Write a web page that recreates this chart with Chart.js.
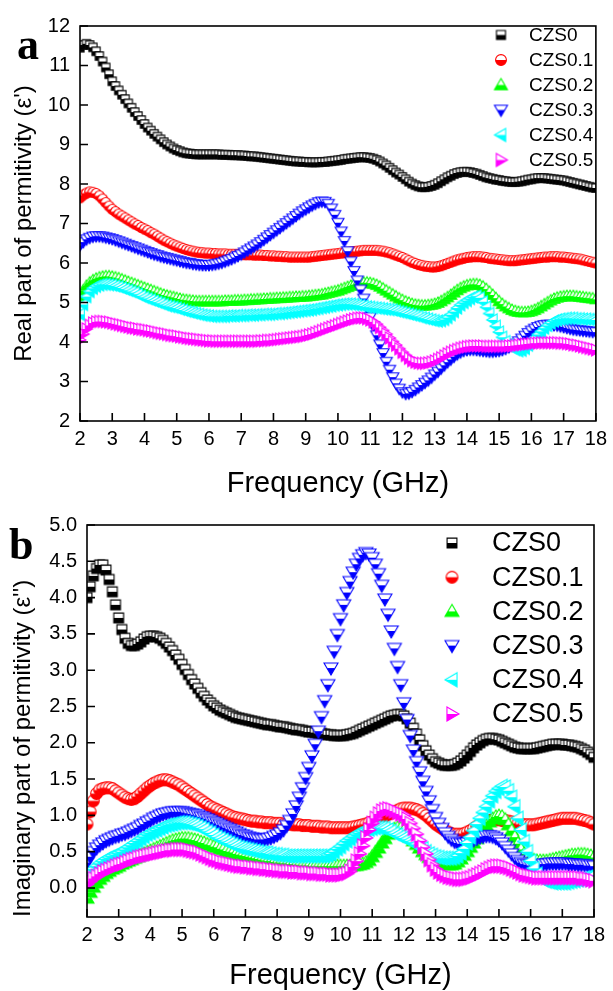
<!DOCTYPE html>
<html>
<head>
<meta charset="utf-8">
<script src="https://cdn.jsdelivr.net/npm/chart.js@4.4.0/dist/chart.umd.min.js"></script>
<style>
html,body{margin:0;padding:0;background:#fff;}
body{width:613px;height:991px;position:relative;overflow:hidden;}
canvas{position:absolute;left:0;}
#ca{top:0;}
#cb{top:500px;}
.pl{position:absolute;font-family:"Liberation Serif","Times New Roman",serif;font-weight:bold;font-size:44px;line-height:44px;color:#000;}
</style>
</head>
<body>
<canvas id="ca" width="613" height="500"></canvas>
<canvas id="cb" width="613" height="491"></canvas>
<div class="pl" style="left:17px;top:23px;">a</div>
<div class="pl" style="left:9px;top:523px;">b</div>
<script>
// ---------- data ----------
const seriesNames = ["CZS0","CZS0.1","CZS0.2","CZS0.3","CZS0.4","CZS0.5"];
const seriesColors = ["#000000","#ff0000","#00ff00","#0000ff","#00ffff","#ff00ff"];
const xTicks = [2,3,4,5,6,7,8,9,10,11,12,13,14,15,16,17,18];
const yTicksA = [2,3,4,5,6,7,8,9,10,11,12];
const yTicksB = [0.0,0.5,1.0,1.5,2.0,2.5,3.0,3.5,4.0,4.5,5.0];

const freq = [2.0,2.1,2.2,2.3,2.4,2.5,2.6,2.7,2.8,2.9,
3.0,3.1,3.2,3.3,3.4,3.5,3.6,3.7,3.8,3.9,
4.0,4.1,4.2,4.3,4.4,4.5,4.6,4.7,4.8,4.9,
5.0,5.1,5.2,5.3,5.4,5.5,5.6,5.7,5.8,5.9,
6.0,6.1,6.2,6.3,6.4,6.5,6.6,6.7,6.8,6.9,
7.0,7.1,7.2,7.3,7.4,7.5,7.6,7.7,7.8,7.9,
8.0,8.1,8.2,8.3,8.4,8.5,8.6,8.7,8.8,8.9,
9.0,9.1,9.2,9.3,9.4,9.5,9.6,9.7,9.8,9.9,
10.0,10.1,10.2,10.3,10.4,10.5,10.6,10.7,10.8,10.9,
11.0,11.1,11.2,11.3,11.4,11.5,11.6,11.7,11.8,11.9,
12.0,12.1,12.2,12.3,12.4,12.5,12.6,12.7,12.8,12.9,
13.0,13.1,13.2,13.3,13.4,13.5,13.6,13.7,13.8,13.9,
14.0,14.1,14.2,14.3,14.4,14.5,14.6,14.7,14.8,14.9,
15.0,15.1,15.2,15.3,15.4,15.5,15.6,15.7,15.8,15.9,
16.0,16.1,16.2,16.3,16.4,16.5,16.6,16.7,16.8,16.9,
17.0,17.1,17.2,17.3,17.4,17.5,17.6,17.7,17.8,17.9,
18.0];

// Panel a: real part of permittivity
const realCZS0 = [11.45,11.52,11.55,11.52,11.46,11.36,11.24,11.1,10.95,10.78,
10.6,10.48,10.37,10.26,10.15,10.04,9.93,9.82,9.72,9.62,
9.52,9.43,9.35,9.27,9.2,9.13,9.06,9.0,8.95,8.9,
8.86,8.83,8.8,8.78,8.77,8.76,8.75,8.75,8.75,8.75,
8.75,8.75,8.75,8.75,8.74,8.74,8.74,8.73,8.73,8.73,
8.72,8.72,8.71,8.7,8.7,8.69,8.68,8.67,8.66,8.65,
8.64,8.63,8.62,8.61,8.6,8.59,8.58,8.57,8.57,8.56,
8.56,8.55,8.55,8.55,8.55,8.56,8.56,8.57,8.58,8.59,
8.6,8.61,8.63,8.64,8.65,8.66,8.67,8.68,8.68,8.67,
8.66,8.64,8.61,8.57,8.52,8.47,8.41,8.35,8.29,8.24,
8.18,8.12,8.06,8.01,7.97,7.94,7.92,7.92,7.93,7.95,
7.98,8.02,8.07,8.12,8.17,8.21,8.25,8.28,8.3,8.31,
8.31,8.3,8.28,8.26,8.23,8.2,8.17,8.15,8.13,8.11,
8.1,8.08,8.07,8.06,8.05,8.05,8.06,8.07,8.09,8.11,
8.12,8.14,8.15,8.15,8.15,8.14,8.13,8.12,8.11,8.1,
8.09,8.07,8.05,8.03,8.01,7.99,7.97,7.95,7.93,7.91,
7.9];
const realCZS01 = [7.65,7.72,7.77,7.8,7.79,7.76,7.7,7.62,7.53,7.44,
7.36,7.3,7.24,7.19,7.14,7.09,7.04,6.99,6.95,6.9,
6.86,6.82,6.77,6.73,6.68,6.63,6.58,6.54,6.5,6.46,
6.43,6.4,6.37,6.34,6.32,6.3,6.28,6.27,6.26,6.25,
6.25,6.24,6.24,6.23,6.23,6.23,6.22,6.22,6.22,6.22,
6.22,6.21,6.21,6.21,6.2,6.2,6.2,6.19,6.19,6.18,
6.18,6.17,6.17,6.16,6.16,6.15,6.15,6.15,6.15,6.15,
6.15,6.15,6.16,6.17,6.18,6.19,6.2,6.21,6.22,6.23,
6.24,6.25,6.26,6.27,6.28,6.29,6.3,6.31,6.32,6.32,
6.32,6.32,6.32,6.31,6.3,6.28,6.26,6.23,6.2,6.17,
6.14,6.1,6.06,6.02,5.99,5.96,5.94,5.92,5.91,5.9,
5.9,5.91,5.93,5.96,5.99,6.02,6.05,6.08,6.1,6.12,
6.14,6.15,6.16,6.16,6.16,6.15,6.14,6.12,6.11,6.1,
6.09,6.08,6.07,6.06,6.06,6.06,6.07,6.08,6.09,6.1,
6.11,6.12,6.13,6.14,6.15,6.15,6.16,6.16,6.16,6.15,
6.15,6.14,6.13,6.12,6.11,6.1,6.08,6.06,6.04,6.02,
6.0];
const realCZS02 = [5.15,5.3,5.42,5.5,5.56,5.6,5.63,5.65,5.66,5.66,
5.65,5.63,5.61,5.58,5.55,5.52,5.49,5.46,5.43,5.4,
5.37,5.34,5.31,5.28,5.25,5.22,5.19,5.17,5.15,5.13,
5.11,5.09,5.07,5.06,5.05,5.04,5.03,5.03,5.03,5.03,
5.03,5.03,5.03,5.03,5.03,5.04,5.04,5.04,5.05,5.05,
5.05,5.06,5.06,5.07,5.07,5.08,5.08,5.09,5.09,5.1,
5.1,5.11,5.11,5.12,5.12,5.13,5.13,5.14,5.14,5.15,
5.15,5.16,5.17,5.18,5.19,5.2,5.22,5.24,5.26,5.28,
5.3,5.33,5.36,5.39,5.42,5.45,5.47,5.49,5.5,5.5,
5.49,5.47,5.44,5.4,5.35,5.3,5.25,5.2,5.15,5.1,
5.06,5.02,4.99,4.96,4.94,4.93,4.92,4.92,4.93,4.94,
4.96,4.99,5.03,5.08,5.13,5.19,5.25,5.31,5.36,5.4,
5.43,5.45,5.46,5.46,5.44,5.4,5.34,5.27,5.19,5.11,
5.03,4.96,4.9,4.85,4.81,4.78,4.76,4.75,4.75,4.76,
4.78,4.81,4.85,4.9,4.95,5.0,5.05,5.09,5.12,5.14,
5.15,5.16,5.16,5.16,5.15,5.14,5.13,5.12,5.11,5.1,
5.08];
const realCZS03 = [6.45,6.53,6.6,6.64,6.67,6.68,6.68,6.67,6.65,6.63,
6.61,6.58,6.55,6.52,6.49,6.46,6.43,6.4,6.37,6.34,
6.31,6.28,6.25,6.22,6.2,6.17,6.15,6.13,6.11,6.09,
6.07,6.05,6.03,6.01,6.0,5.98,5.97,5.96,5.95,5.95,
5.95,5.96,5.97,5.99,6.01,6.04,6.07,6.1,6.14,6.18,
6.22,6.27,6.32,6.37,6.42,6.47,6.53,6.59,6.65,6.71,
6.77,6.83,6.89,6.95,7.01,7.07,7.13,7.19,7.25,7.31,
7.36,7.41,7.46,7.5,7.54,7.56,7.55,7.5,7.38,7.22,
7.02,6.8,6.56,6.3,6.04,5.8,5.56,5.33,5.1,4.87,
4.63,4.4,4.17,3.94,3.72,3.5,3.3,3.11,2.95,2.82,
2.73,2.69,2.7,2.74,2.79,2.85,2.91,2.97,3.03,3.1,
3.18,3.25,3.33,3.41,3.49,3.56,3.63,3.69,3.74,3.78,
3.8,3.81,3.81,3.8,3.79,3.78,3.77,3.76,3.76,3.77,
3.78,3.8,3.83,3.87,3.91,3.96,4.02,4.09,4.16,4.23,
4.29,4.34,4.38,4.41,4.43,4.44,4.44,4.43,4.42,4.4,
4.38,4.36,4.34,4.32,4.31,4.3,4.29,4.28,4.27,4.26,
4.25];
const realCZS04 = [4.7,4.95,5.15,5.28,5.36,5.41,5.44,5.46,5.46,5.45,
5.44,5.42,5.4,5.37,5.34,5.31,5.28,5.25,5.21,5.17,
5.13,5.1,5.07,5.04,5.01,4.98,4.95,4.92,4.9,4.88,
4.86,4.83,4.81,4.78,4.76,4.74,4.72,4.7,4.68,4.67,
4.66,4.65,4.65,4.65,4.65,4.65,4.66,4.66,4.66,4.67,
4.67,4.67,4.68,4.68,4.68,4.69,4.69,4.7,4.7,4.7,
4.71,4.72,4.72,4.73,4.74,4.75,4.76,4.77,4.78,4.79,
4.8,4.81,4.82,4.84,4.85,4.87,4.88,4.9,4.91,4.93,
4.94,4.95,4.96,4.96,4.96,4.95,4.94,4.93,4.91,4.89,
4.88,4.87,4.86,4.85,4.84,4.83,4.82,4.81,4.79,4.77,
4.75,4.73,4.71,4.69,4.67,4.65,4.62,4.6,4.58,4.56,
4.54,4.53,4.54,4.57,4.62,4.69,4.77,4.86,4.94,5.0,
5.05,5.1,5.14,5.16,5.12,5.02,4.88,4.72,4.56,4.4,
4.25,4.12,4.01,3.93,3.86,3.81,3.78,3.79,3.84,3.92,
4.01,4.1,4.19,4.27,4.35,4.42,4.48,4.53,4.56,4.58,
4.59,4.6,4.6,4.6,4.59,4.59,4.58,4.58,4.57,4.57,
4.56];
const realCZS05 = [4.05,4.2,4.33,4.42,4.48,4.51,4.52,4.52,4.51,4.5,
4.48,4.46,4.44,4.42,4.4,4.38,4.36,4.35,4.33,4.32,
4.31,4.29,4.28,4.26,4.24,4.22,4.21,4.19,4.17,4.16,
4.15,4.13,4.12,4.1,4.09,4.08,4.07,4.06,4.05,4.04,
4.03,4.03,4.02,4.02,4.02,4.02,4.02,4.02,4.02,4.02,
4.02,4.02,4.02,4.02,4.02,4.02,4.03,4.03,4.04,4.04,
4.05,4.06,4.07,4.08,4.09,4.1,4.11,4.12,4.13,4.14,
4.16,4.18,4.2,4.23,4.26,4.29,4.32,4.35,4.38,4.41,
4.44,4.47,4.5,4.53,4.56,4.58,4.6,4.61,4.61,4.59,
4.56,4.51,4.45,4.37,4.29,4.2,4.1,4.01,3.92,3.83,
3.74,3.66,3.59,3.53,3.49,3.47,3.46,3.46,3.47,3.49,
3.52,3.56,3.6,3.65,3.7,3.74,3.78,3.81,3.84,3.86,
3.88,3.89,3.9,3.9,3.9,3.9,3.89,3.89,3.89,3.89,
3.89,3.89,3.89,3.9,3.9,3.91,3.92,3.93,3.94,3.95,
3.96,3.97,3.97,3.98,3.98,3.98,3.98,3.98,3.98,3.97,
3.97,3.96,3.95,3.93,3.92,3.9,3.88,3.86,3.84,3.82,
3.8];

// Panel b: imaginary part of permittivity
const imagCZS0 = [4.0,4.15,4.3,4.4,4.45,4.45,4.38,4.25,4.08,3.9,
3.72,3.56,3.44,3.37,3.34,3.34,3.36,3.39,3.43,3.46,
3.47,3.47,3.46,3.44,3.41,3.37,3.32,3.27,3.21,3.15,
3.08,3.01,2.94,2.87,2.81,2.75,2.69,2.64,2.59,2.55,
2.51,2.48,2.45,2.43,2.41,2.39,2.37,2.35,2.34,2.33,
2.32,2.31,2.3,2.29,2.28,2.27,2.26,2.25,2.25,2.24,
2.23,2.22,2.22,2.21,2.2,2.19,2.18,2.18,2.17,2.16,
2.15,2.15,2.14,2.13,2.13,2.12,2.11,2.11,2.1,2.1,
2.1,2.1,2.11,2.12,2.13,2.15,2.17,2.19,2.21,2.23,
2.25,2.27,2.29,2.31,2.33,2.35,2.37,2.38,2.39,2.39,
2.37,2.33,2.27,2.2,2.12,2.04,1.96,1.89,1.83,1.78,
1.74,1.72,1.7,1.69,1.69,1.69,1.7,1.72,1.75,1.79,
1.83,1.88,1.93,1.97,2.0,2.03,2.05,2.06,2.06,2.05,
2.04,2.02,2.0,1.98,1.96,1.94,1.93,1.92,1.92,1.92,
1.92,1.92,1.93,1.94,1.95,1.96,1.97,1.98,1.98,1.98,
1.98,1.97,1.97,1.96,1.95,1.94,1.92,1.9,1.87,1.84,
1.8];
const imagCZS01 = [0.88,1.05,1.2,1.3,1.35,1.37,1.38,1.38,1.37,1.34,
1.31,1.28,1.25,1.23,1.22,1.23,1.26,1.3,1.34,1.38,
1.41,1.44,1.46,1.48,1.49,1.49,1.48,1.46,1.44,1.42,
1.39,1.36,1.33,1.3,1.27,1.24,1.21,1.18,1.15,1.12,
1.1,1.08,1.06,1.04,1.02,1.0,0.98,0.97,0.96,0.95,
0.94,0.93,0.92,0.92,0.91,0.91,0.9,0.9,0.9,0.89,
0.89,0.89,0.88,0.88,0.88,0.87,0.87,0.87,0.86,0.86,
0.86,0.85,0.85,0.85,0.84,0.84,0.84,0.83,0.83,0.83,
0.83,0.83,0.83,0.83,0.84,0.85,0.86,0.87,0.88,0.9,
0.91,0.93,0.95,0.97,0.99,1.01,1.03,1.05,1.07,1.09,
1.1,1.1,1.1,1.09,1.08,1.06,1.03,1.0,0.96,0.92,
0.88,0.85,0.82,0.79,0.77,0.75,0.74,0.74,0.74,0.75,
0.77,0.79,0.82,0.85,0.87,0.89,0.91,0.93,0.94,0.94,
0.94,0.93,0.93,0.92,0.91,0.9,0.89,0.88,0.87,0.87,
0.87,0.87,0.88,0.89,0.9,0.91,0.92,0.93,0.94,0.95,
0.96,0.96,0.96,0.96,0.96,0.95,0.94,0.93,0.92,0.9,
0.88];
const imagCZS02 = [-0.14,-0.06,0.01,0.07,0.12,0.16,0.2,0.23,0.26,0.28,
0.3,0.33,0.35,0.37,0.39,0.41,0.43,0.45,0.47,0.49,
0.51,0.53,0.55,0.57,0.59,0.61,0.63,0.65,0.66,0.67,
0.68,0.68,0.68,0.67,0.66,0.65,0.63,0.62,0.6,0.59,
0.57,0.56,0.54,0.53,0.51,0.5,0.49,0.47,0.46,0.45,
0.44,0.43,0.42,0.41,0.4,0.39,0.38,0.37,0.37,0.36,
0.35,0.35,0.34,0.34,0.33,0.33,0.32,0.32,0.31,0.31,
0.31,0.3,0.3,0.3,0.3,0.3,0.3,0.3,0.3,0.3,
0.3,0.3,0.3,0.3,0.31,0.31,0.32,0.33,0.35,0.38,
0.43,0.49,0.55,0.62,0.68,0.74,0.78,0.81,0.83,0.82,
0.79,0.75,0.7,0.65,0.6,0.55,0.5,0.46,0.42,0.39,
0.37,0.35,0.34,0.33,0.32,0.32,0.33,0.36,0.4,0.45,
0.5,0.56,0.62,0.68,0.74,0.8,0.86,0.91,0.95,0.98,
0.99,0.98,0.94,0.87,0.79,0.7,0.61,0.53,0.47,0.43,
0.4,0.38,0.37,0.37,0.37,0.37,0.38,0.39,0.4,0.41,
0.42,0.43,0.44,0.45,0.45,0.46,0.46,0.46,0.45,0.44,
0.42];
const imagCZS03 = [0.35,0.43,0.5,0.55,0.59,0.62,0.65,0.67,0.69,0.71,
0.72,0.74,0.75,0.77,0.79,0.81,0.83,0.86,0.88,0.91,
0.93,0.96,0.98,1.0,1.02,1.03,1.04,1.05,1.05,1.05,
1.05,1.04,1.03,1.02,1.01,1.0,0.98,0.97,0.95,0.93,
0.91,0.89,0.87,0.85,0.83,0.81,0.79,0.77,0.75,0.73,
0.72,0.7,0.69,0.68,0.67,0.67,0.67,0.68,0.69,0.71,
0.73,0.76,0.8,0.86,0.93,1.02,1.13,1.25,1.38,1.52,
1.66,1.82,1.98,2.16,2.36,2.58,2.8,3.03,3.26,3.49,
3.71,3.9,4.07,4.22,4.35,4.46,4.54,4.59,4.62,4.6,
4.55,4.46,4.33,4.17,3.98,3.77,3.54,3.3,3.05,2.8,
2.55,2.32,2.1,1.9,1.74,1.6,1.47,1.33,1.2,1.08,
0.97,0.89,0.82,0.76,0.71,0.67,0.64,0.62,0.61,0.61,
0.62,0.64,0.66,0.68,0.7,0.71,0.72,0.72,0.71,0.69,
0.66,0.62,0.57,0.52,0.47,0.42,0.38,0.35,0.33,0.32,
0.31,0.31,0.31,0.32,0.33,0.33,0.34,0.34,0.34,0.34,
0.34,0.34,0.33,0.33,0.33,0.32,0.32,0.32,0.31,0.31,
0.3];
const imagCZS04 = [0.18,0.22,0.26,0.3,0.34,0.37,0.4,0.42,0.44,0.46,
0.48,0.5,0.53,0.56,0.59,0.62,0.65,0.68,0.71,0.74,
0.76,0.78,0.8,0.82,0.84,0.86,0.87,0.88,0.89,0.9,
0.9,0.9,0.89,0.88,0.87,0.85,0.83,0.81,0.78,0.76,
0.73,0.7,0.68,0.66,0.64,0.62,0.6,0.58,0.56,0.55,
0.54,0.53,0.52,0.51,0.5,0.49,0.48,0.48,0.47,0.46,
0.46,0.45,0.45,0.44,0.44,0.44,0.44,0.44,0.44,0.44,
0.44,0.44,0.44,0.44,0.44,0.44,0.45,0.47,0.5,0.54,
0.57,0.61,0.65,0.68,0.71,0.74,0.76,0.78,0.8,0.81,
0.82,0.83,0.83,0.83,0.82,0.8,0.78,0.75,0.73,0.71,
0.69,0.67,0.65,0.63,0.6,0.57,0.54,0.5,0.47,0.45,
0.43,0.42,0.41,0.41,0.41,0.41,0.42,0.44,0.48,0.54,
0.62,0.7,0.79,0.88,0.96,1.04,1.12,1.2,1.27,1.33,
1.37,1.4,1.39,1.34,1.25,1.12,0.96,0.8,0.64,0.5,
0.37,0.27,0.19,0.14,0.11,0.09,0.08,0.07,0.07,0.07,
0.07,0.07,0.08,0.09,0.1,0.11,0.12,0.14,0.15,0.16,
0.18];
const imagCZS05 = [0.05,0.09,0.13,0.16,0.19,0.22,0.24,0.26,0.28,0.3,
0.32,0.33,0.35,0.37,0.39,0.4,0.42,0.43,0.44,0.45,
0.46,0.47,0.48,0.49,0.5,0.51,0.52,0.52,0.53,0.53,
0.53,0.53,0.52,0.51,0.5,0.49,0.47,0.45,0.43,0.41,
0.39,0.38,0.36,0.35,0.34,0.33,0.32,0.31,0.3,0.3,
0.29,0.29,0.28,0.28,0.27,0.27,0.26,0.26,0.25,0.25,
0.24,0.24,0.23,0.23,0.23,0.22,0.22,0.22,0.21,0.21,
0.21,0.2,0.2,0.2,0.19,0.19,0.19,0.18,0.18,0.18,
0.18,0.19,0.2,0.23,0.29,0.37,0.47,0.58,0.69,0.8,
0.89,0.96,1.02,1.06,1.08,1.09,1.08,1.06,1.04,1.02,
1.0,0.95,0.89,0.82,0.74,0.65,0.56,0.47,0.39,0.32,
0.26,0.22,0.19,0.17,0.15,0.14,0.13,0.12,0.12,0.12,
0.13,0.14,0.16,0.18,0.2,0.22,0.25,0.27,0.29,0.3,
0.3,0.3,0.29,0.28,0.26,0.24,0.22,0.2,0.18,0.17,
0.16,0.15,0.14,0.14,0.14,0.14,0.14,0.14,0.14,0.14,
0.14,0.14,0.14,0.14,0.14,0.14,0.13,0.13,0.12,0.11,
0.1];

const realSeries = [realCZS0, realCZS01, realCZS02, realCZS03, realCZS04, realCZS05];
const imagSeries = [imagCZS0, imagCZS01, imagCZS02, imagCZS03, imagCZS04, imagCZS05];
const shapes = ["square","circle","up","down","left","right"];

// ---------- half-filled marker images ----------
function makeMarker(shape, color, size) {
  const pad = 2, S = Math.ceil(size + pad * 2);
  const c = document.createElement('canvas');
  c.width = S; c.height = S;
  const g = c.getContext('2d');
  const cx = S / 2, cy = S / 2, r = size / 2;
  function path() {
    g.beginPath();
    if (shape === 'square') g.rect(cx - r * 0.82, cy - r * 0.82, r * 1.64, r * 1.64);
    else if (shape === 'circle') g.arc(cx, cy, r * 0.9, 0, Math.PI * 2);
    else if (shape === 'up') { g.moveTo(cx, cy - r); g.lineTo(cx + r, cy + r * 0.72); g.lineTo(cx - r, cy + r * 0.72); g.closePath(); }
    else if (shape === 'down') { g.moveTo(cx, cy + r); g.lineTo(cx + r, cy - r * 0.72); g.lineTo(cx - r, cy - r * 0.72); g.closePath(); }
    else if (shape === 'left') { g.moveTo(cx - r, cy); g.lineTo(cx + r * 0.72, cy - r); g.lineTo(cx + r * 0.72, cy + r); g.closePath(); }
    else if (shape === 'right') { g.moveTo(cx + r, cy); g.lineTo(cx - r * 0.72, cy - r); g.lineTo(cx - r * 0.72, cy + r); g.closePath(); }
  }
  path(); g.fillStyle = '#ffffff'; g.fill();
  g.save(); path(); g.clip(); g.fillStyle = color; g.fillRect(0, cy, S, S); g.restore();
  path(); g.strokeStyle = color; g.lineWidth = 1.1; g.stroke();
  return c;
}

const FONT = '"Liberation Sans", Arial, sans-serif';

const framePlugin = {
  id: 'frame',
  afterDatasetsDraw(chart, args, opts) {
    const ctx = chart.ctx;
    const {left, right, top, bottom} = chart.chartArea;
    const xs = chart.scales.x, ys = chart.scales.y;
    ctx.save();
    ctx.strokeStyle = '#000';
    ctx.lineWidth = 1.6;
    ctx.strokeRect(left, top, right - left, bottom - top);
    ctx.beginPath();
    opts.xt.forEach(v => { const p = xs.getPixelForValue(v); ctx.moveTo(p, bottom); ctx.lineTo(p, bottom - 8); });
    opts.yt.forEach(v => { const p = ys.getPixelForValue(v); ctx.moveTo(left, p); ctx.lineTo(left + 8, p); });
    ctx.stroke();
    // legend
    const L = opts.legend;
    ctx.fillStyle = '#000';
    ctx.font = L.size + 'px ' + FONT;
    ctx.textBaseline = 'middle';
    ctx.textAlign = 'left';
    seriesNames.forEach((n, i) => {
      const y = L.y0 + i * L.dy;
      const img = L.markers[i];
      ctx.drawImage(img, L.mx - img.width / 2, y - img.height / 2);
      ctx.fillText(n, L.tx, y + 1);
    });
    ctx.restore();
  }
};

function buildDatasets(series, sizes) {
  return seriesNames.map((n, i) => ({
    label: n,
    data: freq.map((f, j) => ({x: f, y: series[i][j]})),
    pointStyle: makeMarker(shapes[i], seriesColors[i], sizes[i]),
    showLine: false,
    order: 5 - i
  }));
}

function makeChart(id, cfg) {
  return new Chart(document.getElementById(id), {
    type: 'scatter',
    data: {datasets: buildDatasets(cfg.series, cfg.msize)},
    options: {
      responsive: false, animation: false, devicePixelRatio: 1,
      layout: {padding: cfg.pad},
      plugins: {
        legend: {display: false}, tooltip: {enabled: false},
        frame: {xt: xTicks, yt: cfg.yt, legend: cfg.legend}
      },
      scales: {
        x: {
          type: 'linear', min: 2, max: 18,
          afterBuildTicks: s => { s.ticks = xTicks.map(v => ({value: v})); },
          ticks: {font: {family: FONT, size: cfg.tickSize}, color: '#000', padding: cfg.xpad, maxRotation: 0, autoSkip: false},
          grid: {display: false, drawTicks: false},
          border: {display: false},
          title: {display: true, text: 'Frequency (GHz)', color: '#000', font: {family: FONT, size: 29, lineHeight: 1}, padding: {top: 0, bottom: cfg.xtitlePad}},
          afterFit: s => { s.height = cfg.xh; }
        },
        y: {
          type: 'linear', min: cfg.ymin, max: cfg.ymax,
          afterBuildTicks: s => { s.ticks = cfg.yt.map(v => ({value: v})); },
          ticks: {font: {family: FONT, size: cfg.tickSize}, color: '#000', padding: 10, callback: cfg.fmt},
          grid: {display: false, drawTicks: false},
          border: {display: false},
          title: {display: true, text: cfg.ytitle, color: '#000', align: cfg.yalign, font: {family: FONT, size: 24, lineHeight: 1.2}, padding: {top: cfg.ytitlePad, bottom: 0}},
          afterFit: s => { s.width = cfg.yw; }
        }
      }
    },
    plugins: [framePlugin]
  });
}

makeChart('ca', {
  series: realSeries, msize: [10, 11, 12, 12, 12, 12],
  pad: {left: 0, right: 12, top: 26, bottom: 0},
  tickSize: 20, xpad: 6, xh: 79, xtitlePad: 2,
  ymin: 2, ymax: 12, yt: yTicksA, fmt: v => String(v),
  ytitle: "Real part of permitivity (\u03b5')", yalign: 'center', ytitlePad: 10, yw: 80,
  legend: {mx: 501, tx: 529, y0: 35, dy: 25, size: 19,
    markers: shapes.map((s, i) => makeMarker(s, seriesColors[i], [11, 12, 13, 13, 13, 13][i]))}
});

makeChart('cb', {
  series: imagSeries, msize: [12, 13, 14, 14, 14, 14],
  pad: {left: 0, right: 19, top: 25, bottom: 0},
  tickSize: 20, xpad: 6, xh: 74, xtitlePad: 1,
  ymin: -0.4, ymax: 5.0, yt: yTicksB, fmt: v => v.toFixed(1),
  ytitle: "Imaginary part of permitivity (\u03b5'')", yalign: 'start', ytitlePad: 9, yw: 87,
  legend: {mx: 452, tx: 492, y0: 43, dy: 34.2, size: 27,
    markers: shapes.map((s, i) => makeMarker(s, seriesColors[i], [12, 13, 14, 14, 14, 14][i]))}
});
</script>
</body>
</html>
